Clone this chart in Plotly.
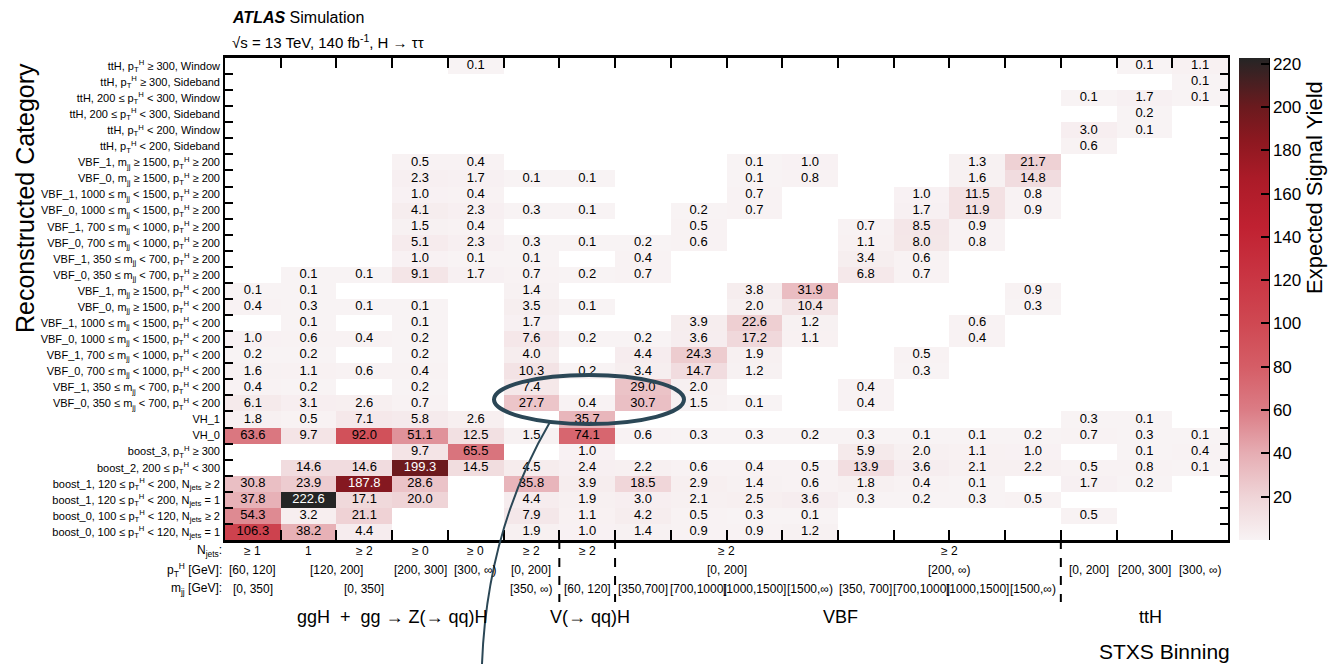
import plotly.graph_objects as go

# ---------------- data ----------------
row_labels = [
    "ttH, p<sub>T</sub><sup>H</sup> ≥ 300, Window",
    "ttH, p<sub>T</sub><sup>H</sup> ≥ 300, Sideband",
    "ttH, 200 ≤ p<sub>T</sub><sup>H</sup> < 300, Window",
    "ttH, 200 ≤ p<sub>T</sub><sup>H</sup> < 300, Sideband",
    "ttH, p<sub>T</sub><sup>H</sup> < 200, Window",
    "ttH, p<sub>T</sub><sup>H</sup> < 200, Sideband",
    "VBF_1, m<sub>jj</sub> ≥ 1500, p<sub>T</sub><sup>H</sup> ≥ 200",
    "VBF_0, m<sub>jj</sub> ≥ 1500, p<sub>T</sub><sup>H</sup> ≥ 200",
    "VBF_1, 1000 ≤ m<sub>jj</sub> < 1500, p<sub>T</sub><sup>H</sup> ≥ 200",
    "VBF_0, 1000 ≤ m<sub>jj</sub> < 1500, p<sub>T</sub><sup>H</sup> ≥ 200",
    "VBF_1, 700 ≤ m<sub>jj</sub> < 1000, p<sub>T</sub><sup>H</sup> ≥ 200",
    "VBF_0, 700 ≤ m<sub>jj</sub> < 1000, p<sub>T</sub><sup>H</sup> ≥ 200",
    "VBF_1, 350 ≤ m<sub>jj</sub> < 700, p<sub>T</sub><sup>H</sup> ≥ 200",
    "VBF_0, 350 ≤ m<sub>jj</sub> < 700, p<sub>T</sub><sup>H</sup> ≥ 200",
    "VBF_1, m<sub>jj</sub> ≥ 1500, p<sub>T</sub><sup>H</sup> < 200",
    "VBF_0, m<sub>jj</sub> ≥ 1500, p<sub>T</sub><sup>H</sup> < 200",
    "VBF_1, 1000 ≤ m<sub>jj</sub> < 1500, p<sub>T</sub><sup>H</sup> < 200",
    "VBF_0, 1000 ≤ m<sub>jj</sub> < 1500, p<sub>T</sub><sup>H</sup> < 200",
    "VBF_1, 700 ≤ m<sub>jj</sub> < 1000, p<sub>T</sub><sup>H</sup> < 200",
    "VBF_0, 700 ≤ m<sub>jj</sub> < 1000, p<sub>T</sub><sup>H</sup> < 200",
    "VBF_1, 350 ≤ m<sub>jj</sub> < 700, p<sub>T</sub><sup>H</sup> < 200",
    "VBF_0, 350 ≤ m<sub>jj</sub> < 700, p<sub>T</sub><sup>H</sup> < 200",
    "VH_1",
    "VH_0",
    "boost_3, p<sub>T</sub><sup>H</sup> ≥ 300",
    "boost_2, 200 ≤ p<sub>T</sub><sup>H</sup> < 300",
    "boost_1, 120 ≤ p<sub>T</sub><sup>H</sup> < 200, N<sub>jets</sub> ≥ 2",
    "boost_1, 120 ≤ p<sub>T</sub><sup>H</sup> < 200, N<sub>jets</sub> = 1",
    "boost_0, 100 ≤ p<sub>T</sub><sup>H</sup> < 120, N<sub>jets</sub> ≥ 2",
    "boost_0, 100 ≤ p<sub>T</sub><sup>H</sup> < 120, N<sub>jets</sub> = 1",
]

N = None
# rows top -> bottom, 18 STXS columns
yields = [
    [N, N, N, N, 0.1, N, N, N, N, N, N, N, N, N, N, N, 0.1, 1.1],
    [N, N, N, N, N, N, N, N, N, N, N, N, N, N, N, N, N, 0.1],
    [N, N, N, N, N, N, N, N, N, N, N, N, N, N, N, 0.1, 1.7, 0.1],
    [N, N, N, N, N, N, N, N, N, N, N, N, N, N, N, N, 0.2, N],
    [N, N, N, N, N, N, N, N, N, N, N, N, N, N, N, 3.0, 0.1, N],
    [N, N, N, N, N, N, N, N, N, N, N, N, N, N, N, 0.6, N, N],
    [N, N, N, 0.5, 0.4, N, N, N, N, 0.1, 1.0, N, N, 1.3, 21.7, N, N, N],
    [N, N, N, 2.3, 1.7, 0.1, 0.1, N, N, 0.1, 0.8, N, N, 1.6, 14.8, N, N, N],
    [N, N, N, 1.0, 0.4, N, N, N, N, 0.7, N, N, 1.0, 11.5, 0.8, N, N, N],
    [N, N, N, 4.1, 2.3, 0.3, 0.1, N, 0.2, 0.7, N, N, 1.7, 11.9, 0.9, N, N, N],
    [N, N, N, 1.5, 0.4, N, N, N, 0.5, N, N, 0.7, 8.5, 0.9, N, N, N, N],
    [N, N, N, 5.1, 2.3, 0.3, 0.1, 0.2, 0.6, N, N, 1.1, 8.0, 0.8, N, N, N, N],
    [N, N, N, 1.0, 0.1, 0.1, N, 0.4, N, N, N, 3.4, 0.6, N, N, N, N, N],
    [N, 0.1, 0.1, 9.1, 1.7, 0.7, 0.2, 0.7, N, N, N, 6.8, 0.7, N, N, N, N, N],
    [0.1, 0.1, N, N, N, 1.4, N, N, N, 3.8, 31.9, N, N, N, 0.9, N, N, N],
    [0.4, 0.3, 0.1, 0.1, N, 3.5, 0.1, N, N, 2.0, 10.4, N, N, N, 0.3, N, N, N],
    [N, 0.1, N, 0.1, N, 1.7, N, N, 3.9, 22.6, 1.2, N, N, 0.6, N, N, N, N],
    [1.0, 0.6, 0.4, 0.2, N, 7.6, 0.2, 0.2, 3.6, 17.2, 1.1, N, N, 0.4, N, N, N, N],
    [0.2, 0.2, N, 0.2, N, 4.0, N, 4.4, 24.3, 1.9, N, N, 0.5, N, N, N, N, N],
    [1.6, 1.1, 0.6, 0.4, N, 10.3, 0.2, 3.4, 14.7, 1.2, N, N, 0.3, N, N, N, N, N],
    [0.4, 0.2, N, 0.2, N, 7.4, N, 29.0, 2.0, N, N, 0.4, N, N, N, N, N, N],
    [6.1, 3.1, 2.6, 0.7, N, 27.7, 0.4, 30.7, 1.5, 0.1, N, 0.4, N, N, N, N, N, N],
    [1.8, 0.5, 7.1, 5.8, 2.6, N, 35.7, N, N, N, N, N, N, N, N, 0.3, 0.1, N],
    [63.6, 9.7, 92.0, 51.1, 12.5, 1.5, 74.1, 0.6, 0.3, 0.3, 0.2, 0.3, 0.1, 0.1, 0.2, 0.7, 0.3, 0.1],
    [N, N, N, 9.7, 65.5, N, 1.0, N, N, N, N, 5.9, 2.0, 1.1, 1.0, N, 0.1, 0.4],
    [N, 14.6, 14.6, 199.3, 14.5, 4.5, 2.4, 2.2, 0.6, 0.4, 0.5, 13.9, 3.6, 2.1, 2.2, 0.5, 0.8, 0.1],
    [30.8, 23.9, 187.8, 28.6, N, 35.8, 3.9, 18.5, 2.9, 1.4, 0.6, 1.8, 0.4, 0.1, N, 1.7, 0.2, N],
    [37.8, 222.6, 17.1, 20.0, N, 4.4, 1.9, 3.0, 2.1, 2.5, 3.6, 0.3, 0.2, 0.3, 0.5, N, N, N],
    [54.3, 3.2, 21.1, N, N, 7.9, 1.1, 4.2, 0.5, 0.3, 0.1, N, N, N, N, 0.5, N, N],
    [106.3, 38.2, 4.4, N, N, 1.9, 1.0, 1.4, 0.9, 0.9, 1.2, N, N, N, N, N, N, N],
]

njets_labels = ["≥ 1", "1", "≥ 2", "≥ 0", "≥ 0", "≥ 2", "≥ 2"]
pt_labels = {0: "[60, 120]", 1.5: "[120, 200]", 3: "[200, 300]", 4: "[300, ∞)", 5: "[0, 200]",
             8.5: "[0, 200]", 12.5: "[200, ∞)", 15: "[0, 200]", 16: "[200, 300]", 17: "[300, ∞)"}
njets_group = {8.5: "≥ 2", 12.5: "≥ 2"}
mjj_labels = {0: "[0, 350]", 2: "[0, 350]", 5: "[350, ∞)", 6: "[60, 120]",
              7: "[350,700]", 8: "[700,1000]", 9: "[1000,1500]", 10: "[1500,∞)",
              11: "[350, 700]", 12: "[700,1000]", 13: "[1000,1500]", 14: "[1500,∞)"}
groups = [("ggH  +  gg → Z(→ qq)H", 392), ("V(→ qq)H", 590), ("VBF", 840), ("ttH", 1150)]
separators = [5.5, 6.5, 14.5]

ncol = 18
nrow = len(row_labels)

# ---------------- figure geometry ----------------
W, H = 1330, 664
L, R, T, B = 225, 1228, 58, 540
FONT = "Liberation Sans, Arial, Helvetica, sans-serif"


def px(xp):
    return (xp - L) / (R - L)


def py(yp):
    return (B - yp) / (B - T)


colorscale = [
    [0.0, "#f8f3f4"], [0.09, "#efd4d7"], [0.18, "#e6adb3"], [0.27, "#db7c85"],
    [0.36, "#d55d66"], [0.45, "#cf4852"], [0.55, "#c93442"], [0.65, "#c02131"],
    [0.75, "#ab1b28"], [0.83, "#8c1820"], [0.90, "#6a1a1e"], [1.0, "#252525"],
]

fig = go.Figure()

fig.add_trace(go.Heatmap(
    z=yields, x=list(range(ncol)), y=list(range(nrow)),
    zmin=0, zmax=222.6, colorscale=colorscale, hoverinfo="skip",
    colorbar=dict(
        x=px(1239), xanchor="left", xpad=0, y=0.5, yanchor="middle", len=1, ypad=0,
        thickness=30, outlinewidth=0,
        tickvals=list(range(20, 221, 20)), ticks="inside", ticklen=8,
        tickwidth=2, tickcolor="black",
        tickfont=dict(family=FONT, size=17, color="black"),
    ),
))

tx, ty, tt, tc = [], [], [], []
for r, row in enumerate(yields):
    for c, v in enumerate(row):
        if v is None:
            continue
        tx.append(c)
        ty.append(r)
        tt.append(f"{v:.1f}")
        tc.append("white" if v > 150 else "black")

fig.add_trace(go.Scatter(
    x=tx, y=ty, text=tt, mode="text", yaxis="y2",
    textfont=dict(family=FONT, size=13, color=tc), hoverinfo="skip",
    showlegend=False,
))

fig.update_layout(
    width=W, height=H,
    margin=dict(l=L, r=W - R, t=T, b=H - B),
    paper_bgcolor="white", plot_bgcolor="white",
    font=dict(family=FONT, color="black"),
    showlegend=False,
    xaxis=dict(
        range=[-0.5, ncol - 0.5], tickvals=[k + 0.5 for k in range(ncol - 1)],
        showticklabels=False, ticks="inside", ticklen=10, tickwidth=2,
        tickcolor="black", showline=True, linewidth=2.5, linecolor="black",
        mirror="ticks", showgrid=False, zeroline=False,
    ),
    yaxis=dict(
        range=[nrow - 0.5, -0.5], tickvals=[k + 0.5 for k in range(nrow - 1)],
        showticklabels=False, ticks="inside", ticklen=8, tickwidth=2,
        tickcolor="black", showline=True, linewidth=2, linecolor="black",
        mirror="ticks", showgrid=False, zeroline=False,
    ),
    yaxis2=dict(
        overlaying="y", anchor="x", side="left",
        range=[nrow - 0.5, -0.5], tickvals=list(range(nrow)), ticktext=row_labels,
        ticks="", showline=False, showgrid=False, zeroline=False,
        ticklabelstandoff=4,
        tickfont=dict(family=FONT, size=11, color="black"),
    ),
)

ann = []


def add_text(text, x, y, size, xref="paper", xanchor="center", angle=0):
    ann.append(dict(xref=xref, yref="paper", x=x, y=y, xanchor=xanchor, yanchor="middle",
                    text=text, showarrow=False, textangle=angle,
                    font=dict(family=FONT, size=size, color="black")))


# header
add_text("<b><i>ATLAS</i></b> Simulation", px(230), py(17), 16, xanchor="left")
add_text("√s = 13 TeV, 140 fb<sup>-1</sup>, H → ττ", px(230), py(42), 15, xanchor="left")
# axis titles
add_text("Reconstructed Category", px(25), py(198), 25, angle=-90)
add_text("Expected Signal Yield", px(1314), py(188), 22, angle=-90)

# bottom labelling rows
yn, yp, ym = py(551), py(570), py(589)
add_text("N<sub>jets</sub>:", px(224), yn, 12, xanchor="right")
add_text("p<sub>T</sub><sup>H</sup> [GeV]:", px(224), yp, 12, xanchor="right")
add_text("m<sub>jj</sub> [GeV]:", px(224), ym, 12, xanchor="right")
for i, lab in enumerate(njets_labels):
    add_text(lab, i, yn, 12, xref="x")
for xv, lab in njets_group.items():
    add_text(lab, xv, yn, 12, xref="x")
for xv, lab in pt_labels.items():
    add_text(lab, xv, yp, 12, xref="x")
for xv, lab in mjj_labels.items():
    add_text(lab, xv, ym, 12, xref="x")
for lab, xp in groups:
    add_text(lab, px(xp), py(617), 18)
add_text("STXS Binning", px(1232), py(651), 21, xanchor="right")
fig.update_layout(annotations=ann)

shapes = []
for xv in separators:
    shapes.append(dict(type="line", xref="x", yref="paper", x0=xv, x1=xv, y0=0, y1=py(602),
                       line=dict(color="black", width=2, dash="dash")))
# colorbar axis line
shapes.append(dict(type="line", xref="paper", yref="paper", x0=px(1269), x1=px(1269), y0=0, y1=1,
                   line=dict(color="black", width=2)))
# highlight ellipse and pointer line
ec = "#2b4756"
shapes.append(dict(type="circle", xref="paper", yref="paper",
                   x0=px(494), x1=px(684), y0=py(424), y1=py(375),
                   line=dict(color=ec, width=4)))
path = "M {} {} Q {} {} {} {}".format(px(550), py(422), px(487), py(530), px(482), py(664))
shapes.append(dict(type="path", xref="paper", yref="paper", path=path,
                   line=dict(color=ec, width=2)))
fig.update_layout(shapes=shapes)

fig.write_html("out.html")
